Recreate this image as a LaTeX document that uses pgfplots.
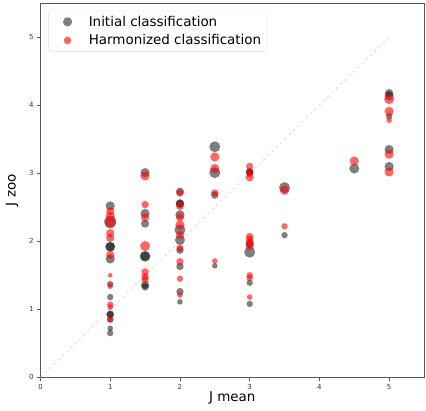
\documentclass[border=0pt]{standalone}
\usepackage{pgfplots}
\pgfplotsset{compat=1.18}
\usepackage{pgfplotstable}
\usepackage{fontspec}
\setmainfont{DejaVu Sans}
\pgfplotstableread{
x y s
1 2.52 4.6
1 2.29 6
1 1.92 5
1 1.92 4.6
1 1.74 4.6
1 1.37 3.2
1 1.18 3.2
1 0.93 3.7
1 0.92 3.7
1 0.85 3.2
1 0.72 2.8
1 0.65 3.2
1.5 3.01 4.6
1.5 2.41 4.6
1.5 2.26 4.1
1.5 1.78 5.5
1.5 1.78 4.6
1.5 1.36 4.1
1.5 1.33 3.7
2 2.73 4.1
2 2.56 4.1
2 2.55 4.1
2 2.39 4.6
2 2.17 5.5
2 2.02 5
2 1.87 3.7
2 1.63 3.7
2 1.26 3.7
2 1.11 2.8
2.5 3.39 5.5
2.5 3.01 5.5
2.5 2.68 3.7
2.5 1.64 2.8
3 3.02 3.7
3 3.02 3.7
3 1.96 4.1
3 1.84 5.5
3 1.39 3.2
3 1.08 3.2
3.5 2.79 5.5
3.5 2.09 3.2
4.5 3.07 5
5 4.18 4.1
5 4.14 4.6
5 3.84 3.2
5 3.35 4.6
5 3.10 4.6
}\initial
\pgfplotstableread{
x y s
1 2.44 4.1
1 2.37 4.6
1 2.27 5.5
1 2.12 4.1
1 2.05 4.1
1 1.80 4.1
1 1.50 2.3
1 1.34 2.8
1 1.07 3.2
1 1.03 2.8
1 0.85 3.2
1.5 2.96 4.6
1.5 2.54 3.7
1.5 2.35 4.1
1.5 1.93 5
1.5 1.55 3.7
1.5 1.48 3.7
1.5 1.44 3.7
2 2.71 3.7
2 2.52 4.1
2 2.35 4.1
2 2.24 4.6
2 2.09 4.1
2 1.90 3.7
2 1.70 3.7
2 1.45 3.2
2 1.21 2.8
2.5 3.24 4.6
2.5 3.07 4.6
2.5 2.71 3.7
2.5 1.71 2.8
3 3.10 3.7
3 3.00 3.7
3 2.94 4.1
3 2.07 3.7
3 2.03 3.7
3 1.98 4.1
3 1.93 4.1
3 1.50 3.2
3 1.46 3.2
3 1.18 2.8
3.5 2.75 4.6
3.5 2.22 3.2
4.5 3.18 4.6
5 4.09 5
5 3.91 4.6
5 3.78 2.8
5 3.28 4.6
5 3.02 4.6
}\harmon
\begin{document}
\begin{tikzpicture}
\begin{axis}[
  scale only axis,
  width=383.5bp, height=374bp,
  xmin=0, xmax=5.5, ymin=0, ymax=5.5,
  xtick={0,1,2,3,4,5}, ytick={0,1,2,3,4,5},
  tick align=outside, tick pos=left,
  major tick length=3.5bp,
  axis line style={gray!70!black},
  every tick/.style={gray!70!black},
  ticklabel style={font=\fontsize{7}{8}\selectfont, text=black!80},
  /pgf/number format/assume math mode=true,
  xlabel={J mean}, ylabel={J zoo},
  label style={font=\fontsize{13.5}{15}\selectfont},
  xlabel style={at={(axis description cs:0.5,0)}, anchor=center, yshift=-20.5bp},
  ylabel style={at={(axis description cs:0,0.5)}, anchor=center, yshift=28.5bp},
  legend style={font=\fontsize{13.5}{15}\selectfont, draw=gray!25, rounded corners=2bp,
    at={(axis description cs:0.02,0.98)}, anchor=north west, row sep=3bp,
    inner xsep=4bp, inner ysep=3bp},
  legend cell align=left,
  legend image code/.code={\path (0bp,0bp) (24bp,0bp); \draw[#1] plot coordinates {(15bp,0bp)};},
]
\addlegendimage{only marks, mark=*, mark size=4.6bp, draw opacity=0, fill=black, fill opacity=0.5}
\addlegendentry{\hspace*{10bp}Initial classification}
\addlegendimage{only marks, mark=*, mark size=3.8bp, draw opacity=0, fill=red, fill opacity=0.6}
\addlegendentry{\hspace*{10bp}Harmonized classification}
\addplot[forget plot, dashed, gray!35, line width=0.6pt] coordinates {(0,0) (5,5)};
\addplot[forget plot, scatter, only marks, mark=*,
  scatter/use mapped color={draw opacity=0, fill=black, fill opacity=0.5},
  visualization depends on={\thisrow{s} \as \msize},
  scatter/@pre marker code/.append style={/tikz/mark size=\msize bp}]
  table[x=x, y=y] {\initial};
\addplot[forget plot, scatter, only marks, mark=*,
  scatter/use mapped color={draw opacity=0, fill=red, fill opacity=0.6},
  visualization depends on={\thisrow{s} \as \msize},
  scatter/@pre marker code/.append style={/tikz/mark size=\msize bp}]
  table[x=x, y=y] {\harmon};
\end{axis}
\path (current axis.south west) ++(-40.5bp,-33bp);
\path (current axis.north east) ++(2bp,3.3bp);
\end{tikzpicture}
\end{document}
